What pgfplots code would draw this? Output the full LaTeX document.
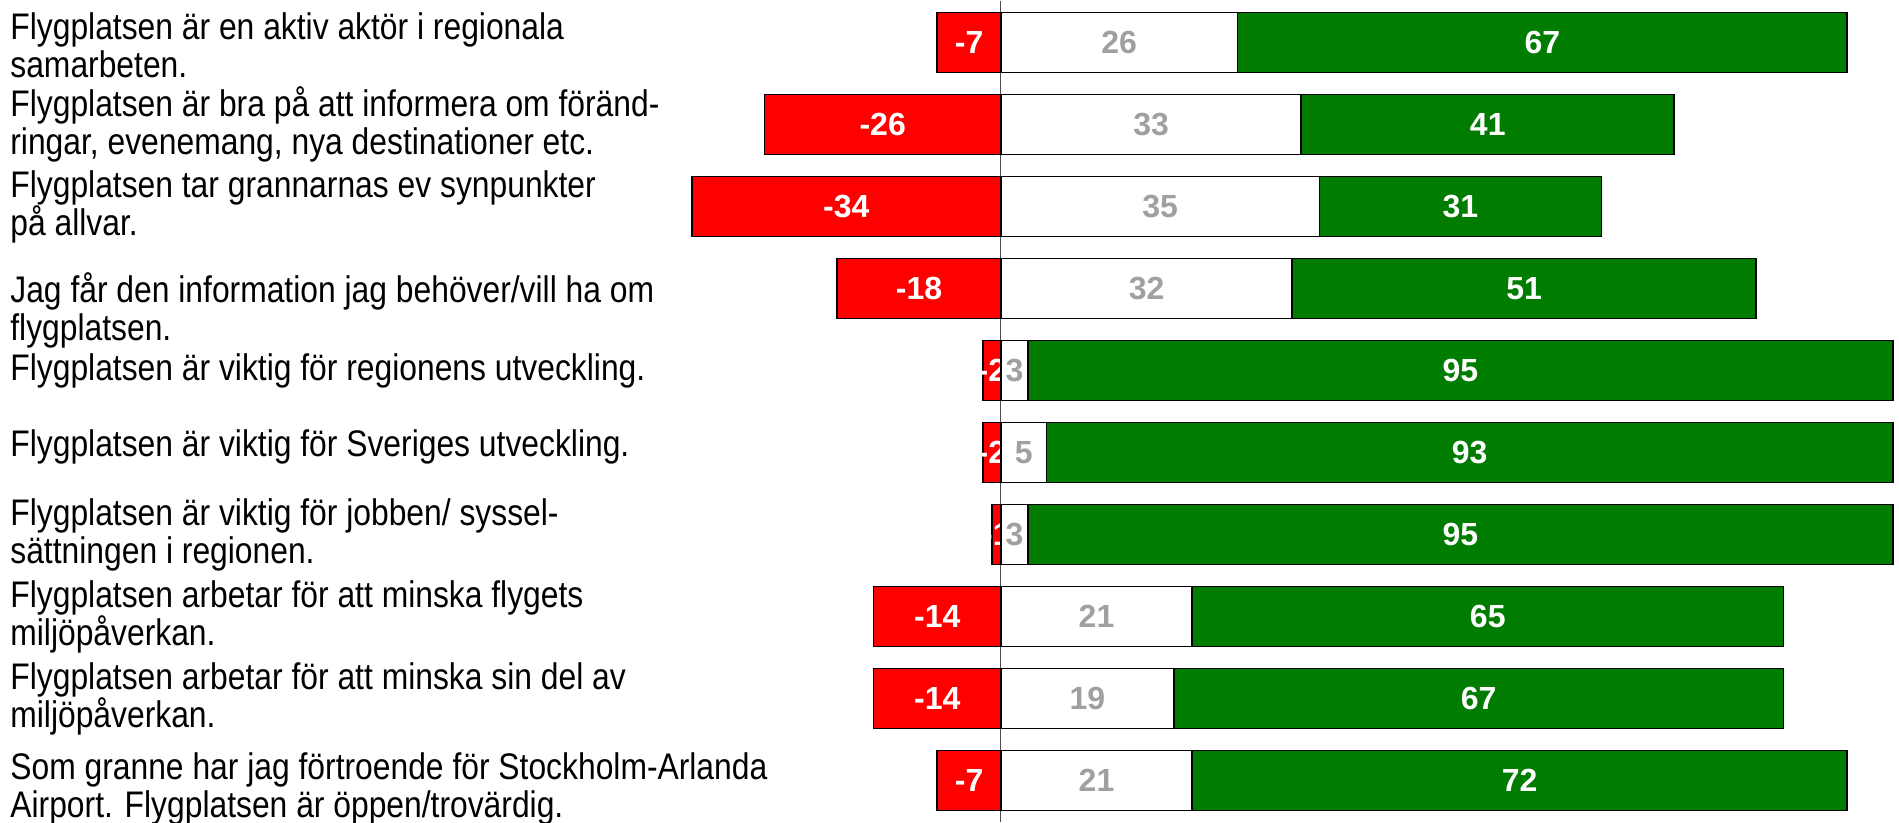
\documentclass[border=0pt]{standalone}
\usepackage{fontspec}
\setmainfont{Liberation Sans}
\newfontfamily\labfont[FakeStretch=0.86]{Liberation Sans}
\usepackage{pgfplots}
\pgfplotsset{compat=1.18}
\definecolor{barred}{HTML}{FF0000}
\definecolor{bargreen}{HTML}{007C00}
\definecolor{numgray}{HTML}{A0A0A0}

\pgfplotsset{
  likert/.style={
    scale only axis, width=608.25pt, height=410pt,
    anchor=south west, at={(341.25pt,0.75pt)},
    xmin=-35, xmax=98.7, ymin=0.5, ymax=10.5, y dir=reverse,
    axis lines=none, clip=false,
    xbar stacked, bar width=0.73,
    nodes near coords,
    every node near coord/.append style={font=\fontsize{16}{16}\selectfont\bfseries, anchor=center},
    /pgf/number format/assume math mode=true,
  },
}
\tikzset{
  seg/.style={draw=black, line width=0.9pt},
  lab/.style={anchor=west, align=left, font=\labfont\fontsize{18.5}{19}\selectfont, inner sep=0pt, xshift=-336.25pt},
}

\begin{document}
\begin{tikzpicture}
\useasboundingbox (0,0) rectangle (949.5pt,411.5pt);
% negative side
\begin{axis}[likert]
  \draw[black!70, line width=0.5pt] (axis cs:0,0.5) -- (axis cs:0,10.5);
  \addplot[seg, fill=barred, every node near coord/.append style={white}]
    coordinates {(-7,1) (-26,2) (-34,3) (-18,4) (-2,5) (-2,6) (-1,7) (-14,8) (-14,9) (-7,10)};
\end{axis}
% neutral + positive
\begin{axis}[likert]
  \addplot[seg, fill=white, every node near coord/.append style={numgray}]
    coordinates {(26,1) (33,2) (35,3) (32,4) (3,5) (5,6) (3,7) (21,8) (19,9) (21,10)};
  \addplot[seg, fill=bargreen, every node near coord/.append style={white}]
    coordinates {(67,1) (41,2) (31,3) (51,4) (95,5) (93,6) (95,7) (65,8) (67,9) (72,10)};

  \node[lab] at (axis cs:-35,1.03) {Flygplatsen är en aktiv aktör i regionala\\samarbeten.};
  \node[lab] at (axis cs:-35,2) {Flygplatsen är bra på att informera om föränd-\\ringar, evenemang, nya destinationer etc.};
  \node[lab] at (axis cs:-35,3) {Flygplatsen tar grannarnas ev synpunkter\\på allvar.};
  \node[lab] at (axis cs:-35,4.27) {Jag får den information jag behöver/vill ha om\\flygplatsen.};
  \node[lab] at (axis cs:-35,5) {Flygplatsen är viktig för regionens utveckling.};
  \node[lab] at (axis cs:-35,5.93) {Flygplatsen är viktig för Sveriges utveckling.};
  \node[lab] at (axis cs:-35,7) {Flygplatsen är viktig för jobben/ syssel-\\sättningen i regionen.};
  \node[lab] at (axis cs:-35,8) {Flygplatsen arbetar för att minska flygets\\miljöpåverkan.};
  \node[lab] at (axis cs:-35,9) {Flygplatsen arbetar för att minska sin del av\\miljöpåverkan.};
  \node[lab] at (axis cs:-35,10.1) {Som granne har jag förtroende för Stockholm-Arlanda\\Airport. Flygplatsen är öppen/trovärdig.};
\end{axis}
\end{tikzpicture}
\end{document}
